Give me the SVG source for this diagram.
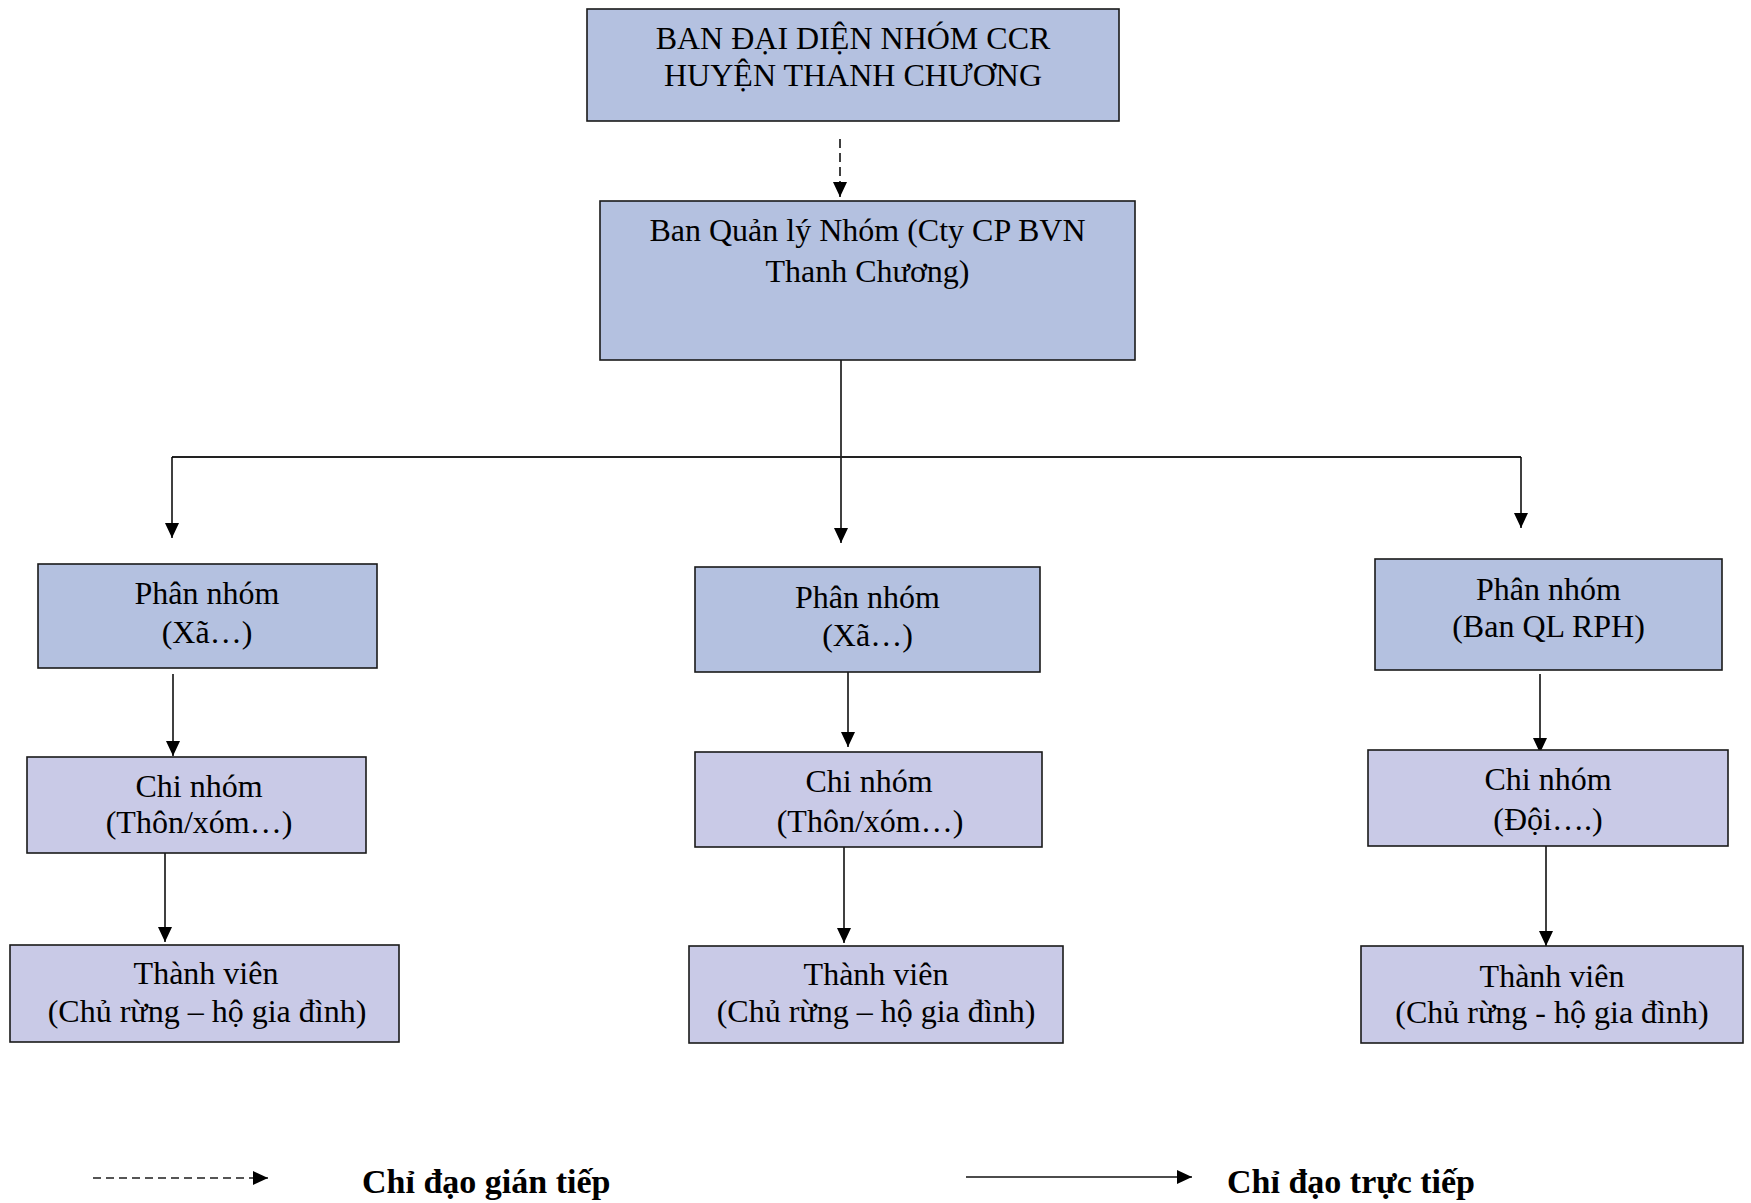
<svg xmlns="http://www.w3.org/2000/svg" width="1751" height="1203" viewBox="0 0 1751 1203">
<defs>
<style>
.t{font-family:"Liberation Serif","Times New Roman",serif;font-size:32px;fill:#000;text-anchor:middle}
.lg{font-family:"Liberation Serif","Times New Roman",serif;font-size:34px;font-weight:bold;fill:#000}
.d{fill:#b4c1e0;stroke:#1a1a1a;stroke-width:1.6}
.l{fill:#c9cae7;stroke:#1a1a1a;stroke-width:1.6}
.c{fill:none;stroke:#000;stroke-width:1.5}
.dash{fill:none;stroke:#000;stroke-width:1.5;stroke-dasharray:9 5}
</style>
<marker id="ah" viewBox="0 0 15 14" refX="15" refY="7" markerWidth="15" markerHeight="14" markerUnits="userSpaceOnUse" orient="auto">
<path d="M0,0 L15,7 L0,14 Z" fill="#000"/>
</marker>
</defs>
<rect width="1751" height="1203" fill="#fff"/>

<g id="connectors">
<line class="dash" x1="840" y1="139" x2="840" y2="197" marker-end="url(#ah)"/>
<line class="c" x1="841" y1="360" x2="841" y2="543" marker-end="url(#ah)"/>
<line x1="172" y1="457" x2="1521" y2="457" stroke="#222" stroke-width="2"/>
<line class="c" x1="172" y1="457" x2="172" y2="538" marker-end="url(#ah)"/>
<line class="c" x1="1521" y1="457" x2="1521" y2="528" marker-end="url(#ah)"/>
<line class="c" x1="173" y1="674" x2="173" y2="756" marker-end="url(#ah)"/>
<line class="c" x1="165" y1="853" x2="165" y2="942" marker-end="url(#ah)"/>
<line class="c" x1="848" y1="672" x2="848" y2="747" marker-end="url(#ah)"/>
<line class="c" x1="844" y1="847" x2="844" y2="943" marker-end="url(#ah)"/>
<line class="c" x1="1540" y1="674" x2="1540" y2="753" marker-end="url(#ah)"/>
<line class="c" x1="1546" y1="846" x2="1546" y2="946" marker-end="url(#ah)"/>
</g>

<g id="ban-dai-dien">
<rect class="d" x="587" y="9" width="532" height="112"/>
<text class="t" x="853" y="49">BAN ĐẠI DIỆN NHÓM CCR</text>
<text class="t" x="853" y="86">HUYỆN THANH CHƯƠNG</text>
</g>

<g id="ban-quan-ly">
<rect class="d" x="600" y="201" width="535" height="159"/>
<text class="t" x="867.5" y="241">Ban Quản lý Nhóm (Cty CP BVN</text>
<text class="t" x="867.5" y="282">Thanh Chương)</text>
</g>

<g id="phan-nhom-1">
<rect class="d" x="38" y="564" width="339" height="104"/>
<text class="t" x="207" y="604">Phân nhóm</text>
<text class="t" x="207" y="643">(Xã…)</text>
</g>

<g id="chi-nhom-1">
<rect class="l" x="27" y="757" width="339" height="96"/>
<text class="t" x="199" y="797">Chi nhóm</text>
<text class="t" x="199" y="833">(Thôn/xóm…)</text>
</g>

<g id="thanh-vien-1">
<rect class="l" x="10" y="945" width="389" height="97"/>
<text class="t" x="206" y="984">Thành viên</text>
<text class="t" x="207" y="1022">(Chủ rừng – hộ gia đình)</text>
</g>

<g id="phan-nhom-2">
<rect class="d" x="695" y="567" width="345" height="105"/>
<text class="t" x="867.5" y="608">Phân nhóm</text>
<text class="t" x="867.5" y="646">(Xã…)</text>
</g>

<g id="chi-nhom-2">
<rect class="l" x="695" y="752" width="347" height="95"/>
<text class="t" x="869" y="792">Chi nhóm</text>
<text class="t" x="870" y="832">(Thôn/xóm…)</text>
</g>

<g id="thanh-vien-2">
<rect class="l" x="689" y="946" width="374" height="97"/>
<text class="t" x="876" y="985">Thành viên</text>
<text class="t" x="876" y="1022">(Chủ rừng – hộ gia đình)</text>
</g>

<g id="phan-nhom-3">
<rect class="d" x="1375" y="559" width="347" height="111"/>
<text class="t" x="1548.5" y="600">Phân nhóm</text>
<text class="t" x="1548.5" y="637">(Ban QL RPH)</text>
</g>

<g id="chi-nhom-3">
<rect class="l" x="1368" y="750" width="360" height="96"/>
<text class="t" x="1548" y="790">Chi nhóm</text>
<text class="t" x="1548" y="830">(Đội….)</text>
</g>

<g id="thanh-vien-3">
<rect class="l" x="1361" y="946" width="382" height="97"/>
<text class="t" x="1552" y="987">Thành viên</text>
<text class="t" x="1552" y="1023">(Chủ rừng - hộ gia đình)</text>
</g>

<g id="legend">
<line x1="93" y1="1178" x2="268" y2="1178" stroke="#555" stroke-width="1.8" stroke-dasharray="8 5" marker-end="url(#ah)"/>
<text class="lg" x="362" y="1193">Chỉ đạo gián tiếp</text>
<line x1="966" y1="1177" x2="1192" y2="1177" stroke="#111" stroke-width="1.6" marker-end="url(#ah)"/>
<text class="lg" x="1227" y="1193">Chỉ đạo trực tiếp</text>
</g>
</svg>
